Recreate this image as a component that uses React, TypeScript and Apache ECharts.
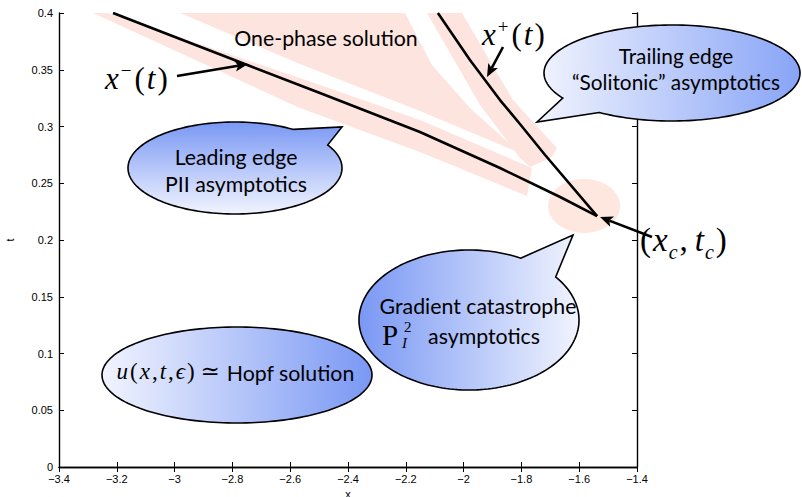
import React, { useEffect, useRef } from "react";
import * as echarts from "echarts";

// ---------- axes ----------
const X_MIN = -3.4;
const X_MAX = -1.4;
const X_STEP = 0.2;
const T_MIN = 0;
const T_MAX = 0.4;
const T_STEP = 0.05;

// ---------- curves ----------
// leading edge x^-(t)
const xMinus = [-3.213, -2.981, -2.746, -2.497, -2.151, -1.874, -1.666, -1.538];
const tMinus = [0.4, 0.3771, 0.354, 0.3295, 0.2952, 0.2634, 0.2379, 0.2211];
// trailing edge x^+(t)
const xPlus = [-2.089, -1.978, -1.874, -1.805, -1.718, -1.538];
const tPlus = [0.4, 0.3586, 0.3233, 0.3022, 0.2749, 0.2211];
// neighbourhood of the gradient catastrophe point (x_c, t_c)
const spotX = -1.583;
const spotT = 0.23;

// ---------- pink highlight regions (data coordinates) ----------
const leadingBandX = [-3.2304, -2.5661, -2.1509, -1.7633, -1.7806, -2.1509, -2.5661, -3.2824];
const leadingBandT = [0.4, 0.3427, 0.3057, 0.2634, 0.2388, 0.2775, 0.3163, 0.4];
const onePhaseX = [-2.9813, -2.2028, -2.1094, -1.9779, -1.8048, -2.1509, -2.5661];
const onePhaseT = [0.4, 0.4, 0.3542, 0.3163, 0.2767, 0.3137, 0.3551];
const trailingBandX = [-2.1266, -2.0055, -1.8291, -1.6768, -1.6941, -1.7702, -1.8048, -1.9433];
const trailingBandT = [0.4, 0.4, 0.3233, 0.2811, 0.2731, 0.2643, 0.2722, 0.3189];

const pinkRegions = [
  leadingBandX.map((x, i) => [x, leadingBandT[i]]),
  onePhaseX.map((x, i) => [x, onePhaseT[i]]),
  trailingBandX.map((x, i) => [x, trailingBandT[i]]),
];

const PINK = "#fde4df";
const SANS = "Lato";
const SERIF = "'Liberation Serif', 'DejaVu Serif', serif";
const TXT = 21.3;

function fmtX(v: number) {
  const s = Number(v.toFixed(2)).toString();
  return s.replace("-", "\u2212");
}

function bubblePoints(cx: number, cy: number, rx: number, ry: number, a1: number, a2: number, tip: number[] | null) {
  const P = (a: number) => [cx + rx * Math.cos((a * Math.PI) / 180), cy + ry * Math.sin((a * Math.PI) / 180)];
  const pts: number[][] = [];
  if (tip) {
    pts.push(P(a1), tip);
    for (let a = a2; a <= a1 + 360; a += 2) pts.push(P(a));
    pts.push(P(a1));
  } else {
    for (let a = 0; a < 360; a += 2) pts.push(P(a));
  }
  return pts;
}

function grad(x0: number, y0: number, x1: number, y1: number, c0: string, c1: string) {
  return new echarts.graphic.LinearGradient(x0, y0, x1, y1, [
    { offset: 0, color: c0 },
    { offset: 1, color: c1 },
  ]);
}

const LIGHT = "#f1f4fe";
const BLUE = "#7a98f4";

function bubble(cx: number, cy: number, rx: number, ry: number, a1: number, a2: number, tip: number[] | null, fill: any, z = 100) {
  return {
    type: "polygon",
    z,
    shape: { points: bubblePoints(cx, cy, rx, ry, a1, a2, tip) },
    style: { fill, stroke: "#000", lineWidth: 1.6 },
  };
}

function arrow(x1: number, y1: number, x2: number, y2: number) {
  const dx = x2 - x1;
  const dy = y2 - y1;
  const L = Math.hypot(dx, dy);
  const ux = dx / L;
  const uy = dy / L;
  const hl = 13;
  const hw = 5.5;
  const bx = x2 - ux * hl;
  const by = y2 - uy * hl;
  return [
    {
      type: "line",
      z: 110,
      shape: { x1, y1, x2: bx + ux * 3, y2: by + uy * 3 },
      style: { stroke: "#000", lineWidth: 2.6 },
    },
    {
      type: "polygon",
      z: 110,
      shape: {
        points: [
          [x2, y2],
          [bx - uy * hw, by + ux * hw],
          [bx + ux * 3, by + uy * 3],
          [bx + uy * hw, by - ux * hw],
        ],
      },
      style: { fill: "#000" },
    },
  ];
}

function label(text: string, x: number, y: number, size = TXT, align = "center") {
  return {
    type: "text",
    z: 120,
    x,
    y,
    style: {
      text,
      fill: "#000",
      fontSize: size,
      lineHeight: Math.round(size),
      fontFamily: SANS,
      align,
      textAlign: align,
      verticalAlign: "middle",
      textVerticalAlign: "middle",
    },
  };
}

function mathRich(size: number) {
  const small = Math.round(size * 0.62);
  const lh = Math.round(size * 1.2);
  return {
    i: { fontFamily: SERIF, fontStyle: "italic", fontSize: size, lineHeight: lh, color: "#000", verticalAlign: "top", padding: [0, 1, 0, 1] },
    ti: { fontFamily: SERIF, fontStyle: "italic", fontSize: size, lineHeight: lh, color: "#000", verticalAlign: "top", padding: [0, 1, 0, 6] },
    n: { fontFamily: SERIF, fontSize: size, lineHeight: lh, color: "#000", verticalAlign: "top", padding: [0, 1, 0, 1] },
    sp: { fontFamily: SERIF, fontSize: small, lineHeight: small, color: "#000", verticalAlign: "top", padding: [Math.round(lh / 2 - small / 2 - size * 0.36), 2, 0, 1] },
    sb: { fontFamily: SERIF, fontStyle: "italic", fontSize: small, lineHeight: small, color: "#000", verticalAlign: "top", padding: [Math.round(lh / 2 - small / 2 + size * 0.28), 1, 0, 0] },
    s: { fontFamily: SANS, fontSize: TXT, lineHeight: lh, color: "#000", verticalAlign: "top", padding: [Math.round((lh - TXT * 1.2) / 2) + 1, 0, 0, 0] },
  };
}

function math(text: string, x: number, y: number, size: number, align = "left") {
  return {
    type: "text",
    z: 120,
    x,
    y,
    style: {
      text,
      rich: mathRich(size),
      align,
      textAlign: align,
      verticalAlign: "middle",
      textVerticalAlign: "middle",
    },
  };
}

export default function App() {
  const ref = useRef<HTMLDivElement>(null);
  useEffect(() => {
    if (!ref.current) return;
    const chart = echarts.init(ref.current, undefined, { renderer: "svg" });
    const axisCommon = {
      min: X_MIN,
      max: X_MAX,
      interval: X_STEP,
      axisLine: { show: true, lineStyle: { color: "#000", width: 1.4 } },
      axisTick: { show: true, inside: true, length: 5, lineStyle: { color: "#000" } },
      splitLine: { show: false },
    };
    const yCommon = {
      min: T_MIN,
      max: T_MAX,
      interval: T_STEP,
      axisLine: { show: true, lineStyle: { color: "#000", width: 1.4 } },
      axisTick: { show: true, inside: true, length: 5, lineStyle: { color: "#000" } },
      splitLine: { show: false },
    };
    const graphicEls: any[] = [
      label("One-phase solution", 326, 38),
      // leading edge bubble
      bubble(235, 168, 107, 46, -57, -30, [342, 127], grad(0, 0, 0, 1, BLUE, LIGHT)),
      label("Leading edge", 236, 157),
      label("PII asymptotics", 236, 184),
      // trailing edge bubble
      bubble(672, 73, 128, 48, 124.7, 148.6, [537, 122], grad(0, 0, 1, 0, LIGHT, "#88a4f6")),
      label("Trailing edge", 676, 55, 20.8),
      label("\u201cSolitonic\u201d asymptotics", 676, 81, 20.8),
      // hopf bubble
      bubble(237, 375, 135, 48, 0, 0, null, grad(0, 0, 1, 0, LIGHT, BLUE), 99),
      math("{i|u}{n|(}{i|x}{n|,}{i|t}{n|,}{i|\u03f5}{n|) \u2243 }{s|Hopf solution}", 235, 374, 23, "center"),
      // gradient catastrophe bubble
      bubble(469, 320, 110, 70, -62, -38, [573, 235], grad(0, 0, 1, 0, BLUE, LIGHT)),
      label("Gradient catastrophe", 478, 306),
      label("asymptotics", 484, 336),
      {
        type: "text",
        z: 120,
        x: 382,
        y: 335,
        style: { text: "P", fill: "#000", fontFamily: SERIF, fontSize: 29, lineHeight: 26, verticalAlign: "middle", textVerticalAlign: "middle" },
      },
      {
        type: "text",
        z: 120,
        x: 404,
        y: 327,
        style: { text: "2", fill: "#000", fontFamily: SERIF, fontSize: 15, lineHeight: 10, verticalAlign: "middle", textVerticalAlign: "middle" },
      },
      {
        type: "text",
        z: 120,
        x: 402,
        y: 343,
        style: { text: "I", fill: "#000", fontFamily: SERIF, fontStyle: "italic", fontSize: 15, lineHeight: 10, verticalAlign: "middle", textVerticalAlign: "middle" },
      },
      // math labels
      math("{i|x}{sp|\u2212}{n|(}{i|t}{n|)}", 104, 81, 31),
      math("{i|x}{sp|+}{n|(}{i|t}{n|)}", 481, 37, 31),
      math("{n|(}{i|x}{sb|c}{n|,}{ti|t}{sb|c}{n|)}", 639, 243, 33),
      ...arrow(177, 76, 248, 64),
      ...arrow(503, 47, 487, 77),
      ...arrow(652, 237, 600, 217),
    ];
    chart.setOption({
      animation: false,
      backgroundColor: "#fff",
      grid: { left: 59, right: 165, top: 13, bottom: 30, containLabel: false, outerBoundsMode: "none" },
      xAxis: [
        {
          ...axisCommon,
          type: "value",
          position: "bottom",
          name: "x",
          nameLocation: "middle",
          nameGap: 17,
          nameTextStyle: { color: "#000", fontFamily: "Liberation Sans", fontSize: 11, lineHeight: 10 },
          axisLabel: { color: "#000", fontFamily: "Liberation Sans", fontSize: 11, margin: 6, formatter: fmtX },
        },
        { ...axisCommon, type: "value", position: "top", axisLabel: { show: false } },
      ],
      yAxis: [
        {
          ...yCommon,
          type: "value",
          position: "left",
          name: "t",
          nameLocation: "middle",
          nameGap: 44,
          nameTextStyle: { color: "#000", fontFamily: "Liberation Sans", fontSize: 11 },
          axisLabel: { color: "#000", fontFamily: "Liberation Sans", fontSize: 11, margin: 6 },
        },
        { ...yCommon, type: "value", position: "right", axisLabel: { show: false } },
      ],
      series: [
        {
          type: "custom",
          coordinateSystem: "cartesian2d",
          clip: true,
          z: 1,
          silent: true,
          data: pinkRegions.map((r) => r[0]),
          renderItem: (params: any, api: any) => {
            const poly = pinkRegions[params.dataIndex];
            return {
              type: "polygon",
              shape: { points: poly.map((p) => api.coord(p)) },
              style: { fill: PINK },
            };
          },
        },
        {
          type: "scatter",
          z: 2,
          silent: true,
          symbol: "circle",
          symbolSize: [72, 54],
          itemStyle: { color: "#fde7df", opacity: 1 },
          data: [[spotX, spotT]],
        },
        {
          type: "line",
          z: 3,
          clip: true,
          showSymbol: false,
          symbol: "none",
          lineStyle: { color: "#000", width: 2.6 },
          data: xMinus.map((x, i) => [x, tMinus[i]]),
        },
        {
          type: "line",
          z: 3,
          clip: true,
          showSymbol: false,
          symbol: "none",
          lineStyle: { color: "#000", width: 2.6 },
          data: xPlus.map((x, i) => [x, tPlus[i]]),
        },
      ],
      graphic: { elements: graphicEls },
    });
    return () => chart.dispose();
  }, []);
  return <div ref={ref} style={{ position: "absolute", left: 0, top: 0, width: 802, height: 497 }} />;
}
